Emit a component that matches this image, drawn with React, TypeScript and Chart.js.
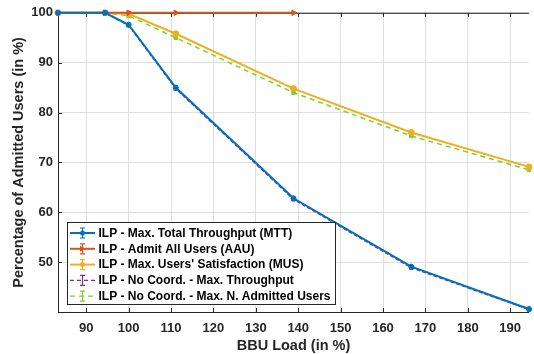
import React, { useEffect, useRef } from 'react';
import { Chart, registerables } from 'chart.js';

Chart.register(...registerables);

// ---- data ----
const bbuLoad = [83.33, 94.44, 100, 111.11, 138.89, 166.67, 194.44];
const xTicks = [90, 100, 110, 120, 130, 140, 150, 160, 170, 180, 190];
const yTicks = [50, 60, 70, 80, 90, 100];
const mttValues = [100, 100, 97.6, 85.0, 62.8, 49.1, 40.6];
const aauValues = [100, 100, 100, 100, 100];
const musValues = [100, 100, 99.8, 95.8, 84.8, 76.0, 69.1];
const ncThroughputValues = [100, 100, 97.5, 84.8, 62.6, 48.9, 40.5];
const ncAdmittedValues = [100, 100, 99.4, 95.0, 84.0, 75.3, 68.5];
const seriesLabels = [
  'ILP - Max. Total Throughput (MTT)',
  'ILP - Admit All Users (AAU)',
  "ILP - Max. Users' Satisfaction (MUS)",
  'ILP - No Coord. - Max. Throughput',
  'ILP - No Coord. - Max. N. Admitted Users',
];

const FONT = "'Liberation Sans', Arial, Helvetica, sans-serif";
const colors = ['#0072BD', '#D95319', '#EDB120', '#7E2F8E', '#7ED02E'];

const toPoints = (vals: number[]) => vals.map((v, i) => ({ x: bbuLoad[i], y: v }));

const framePlugin = {
  id: 'frame',
  beforeDatasetsDraw(chart: any) {
    const { ctx, chartArea } = chart;
    const { left, right, top, bottom } = chartArea;
    const xs = chart.scales.x;
    const ys = chart.scales.y;
    ctx.save();
    ctx.strokeStyle = '#262626';
    ctx.lineWidth = 1;
    ctx.beginPath();
    ctx.moveTo(left + 0.5, top);
    ctx.lineTo(left + 0.5, bottom + 0.5);
    ctx.moveTo(left, bottom + 0.5);
    ctx.lineTo(right, bottom + 0.5);
    ctx.moveTo(left, top + 0.5);
    ctx.lineTo(right, top + 0.5);
    const tl = 4;
    xTicks.forEach((v) => {
      const px = Math.round(xs.getPixelForValue(v)) + 0.5;
      ctx.moveTo(px, bottom);
      ctx.lineTo(px, bottom - tl);
      ctx.moveTo(px, top);
      ctx.lineTo(px, top + tl);
    });
    yTicks.forEach((v) => {
      const py = Math.round(ys.getPixelForValue(v)) + 0.5;
      ctx.moveTo(left, py);
      ctx.lineTo(left + tl, py);
    });
    ctx.stroke();
    ctx.restore();
  },
};

const legendPlugin = {
  id: 'boxLegend',
  afterDraw(chart: any) {
    const { ctx } = chart;
    const bx = 67.5, by = 222.5, bw = 268, bh = 82;
    ctx.save();
    ctx.fillStyle = '#ffffff';
    ctx.fillRect(bx, by, bw, bh);
    ctx.strokeStyle = '#262626';
    ctx.lineWidth = 1;
    ctx.strokeRect(bx, by, bw, bh);
    const dashes = [[], [], [], [4, 3], [5, 4]];
    const markers = ['circle', 'triangle', 'circle', null, null];
    seriesLabels.forEach((lab, i) => {
      const cy = 233 + i * 15.8;
      const c = colors[i];
      ctx.strokeStyle = c;
      ctx.fillStyle = c;
      ctx.lineWidth = i < 3 ? 2 : 1.2;
      ctx.setLineDash(dashes[i]);
      ctx.beginPath();
      ctx.moveTo(70, cy);
      ctx.lineTo(95, cy);
      ctx.stroke();
      ctx.setLineDash([]);
      // error bar
      ctx.lineWidth = 1.2;
      ctx.beginPath();
      ctx.moveTo(82.5, cy - 5);
      ctx.lineTo(82.5, cy + 5);
      ctx.moveTo(80, cy - 5);
      ctx.lineTo(85, cy - 5);
      ctx.moveTo(80, cy + 5);
      ctx.lineTo(85, cy + 5);
      ctx.stroke();
      const m = markers[i];
      if (m === 'circle') {
        ctx.beginPath();
        ctx.arc(82.5, cy, 2.5, 0, Math.PI * 2);
        ctx.fill();
      } else if (m === 'triangle') {
        ctx.beginPath();
        ctx.moveTo(85.5, cy);
        ctx.lineTo(80, cy - 3);
        ctx.lineTo(80, cy + 3);
        ctx.closePath();
        ctx.fill();
      }
      ctx.fillStyle = '#000000';
      ctx.font = `bold 12px ${FONT}`;
      ctx.textAlign = 'left';
      ctx.textBaseline = 'middle';
      ctx.fillText(lab, 98.5, cy + 0.5);
    });
    ctx.restore();
  },
};

export default function App() {
  const canvasRef = useRef<HTMLCanvasElement | null>(null);

  useEffect(() => {
    document.body.style.margin = '0';
    const canvas = canvasRef.current;
    if (!canvas) return;
    const chart = new Chart(canvas, {
      type: 'line',
      data: {
        datasets: [
          {
            label: seriesLabels[0],
            data: toPoints(mttValues),
            borderColor: colors[0],
            backgroundColor: colors[0],
            borderWidth: 2,
            pointStyle: 'circle',
            pointRadius: 2.5,
            pointBorderWidth: 1,
            clip: 8,
          },
          {
            label: seriesLabels[1],
            data: toPoints(aauValues),
            borderColor: colors[1],
            backgroundColor: colors[1],
            borderWidth: 2,
            pointStyle: 'triangle',
            pointRotation: 90,
            pointRadius: 3.2,
            pointBorderWidth: 1,
            clip: 8,
          },
          {
            label: seriesLabels[2],
            data: toPoints(musValues),
            borderColor: colors[2],
            backgroundColor: colors[2],
            borderWidth: 2,
            pointStyle: 'circle',
            pointRadius: 3,
            pointBorderWidth: 1,
            clip: 8,
          },
          {
            label: seriesLabels[3],
            data: toPoints(ncThroughputValues),
            borderColor: colors[3],
            backgroundColor: colors[3],
            borderWidth: 1.5,
            borderDash: [4, 2],
            pointStyle: 'rect',
            pointRadius: 2.5,
            pointBorderWidth: 1,
            clip: 8,
          },
          {
            label: seriesLabels[4],
            data: toPoints(ncAdmittedValues),
            borderColor: colors[4],
            backgroundColor: colors[4],
            borderWidth: 1.5,
            borderDash: [5, 4],
            pointStyle: 'rect',
            pointRadius: 2.5,
            pointBorderWidth: 1,
            clip: 8,
          },
        ],
      },
      options: {
        responsive: false,
        animation: false,
        layout: { padding: { top: 12, right: 0, left: 0, bottom: 0 } },
        plugins: {
          legend: { display: false },
          tooltip: { enabled: false },
        },
        elements: { line: { tension: 0 } },
        scales: {
          x: {
            type: 'linear',
            min: 83.33,
            max: 194.44,
            afterBuildTicks: (s: any) => {
              s.ticks = xTicks.map((v) => ({ value: v }));
            },
            afterFit: (s: any) => {
              s.height = 42;
            },
            grid: { color: '#dedede', lineWidth: 1, drawTicks: false },
            border: { display: false },
            ticks: {
              color: '#262626',
              font: { family: FONT, size: 13, weight: 'bold' },
              padding: 9,
              maxRotation: 0,
              autoSkip: false,
            },
            title: {
              display: true,
              text: 'BBU Load (in %)',
              color: '#262626',
              font: { family: FONT, size: 14.5, weight: 'bold' },
              padding: { top: 0, bottom: -1 },
            },
          },
          y: {
            type: 'linear',
            min: 40,
            max: 100,
            afterBuildTicks: (s: any) => {
              s.ticks = yTicks.map((v) => ({ value: v }));
            },
            afterFit: (s: any) => {
              s.width = 58;
            },
            grid: { color: '#dedede', lineWidth: 1, drawTicks: false },
            border: { display: false },
            ticks: {
              color: '#262626',
              font: { family: FONT, size: 13, weight: 'bold' },
              padding: 5,
              autoSkip: false,
            },
            title: {
              display: true,
              text: 'Percentage of Admitted Users (in %)',
              color: '#262626',
              font: { family: FONT, size: 14.5, weight: 'bold' },
              padding: { top: 10, bottom: 0 },
            },
          },
        },
      },
      plugins: [framePlugin, legendPlugin],
    });
    return () => chart.destroy();
  }, []);

  return (
    <div style={{ width: 534, height: 354 }}>
      <canvas ref={canvasRef} width={534} height={354} />
    </div>
  );
}
